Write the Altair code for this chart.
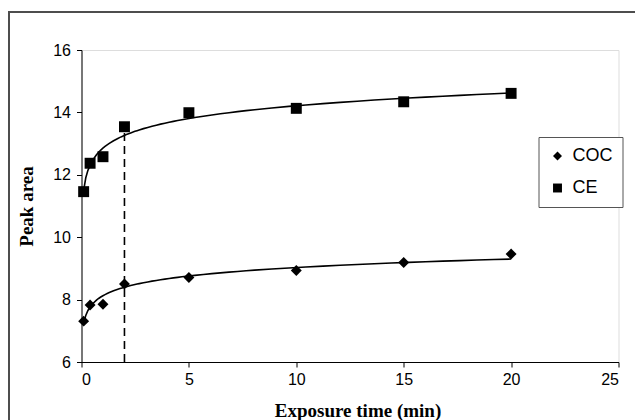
import altair as alt
import pandas as pd

# ---- data ----
time_min = [0.1, 0.4, 1, 2, 5, 10, 15, 20]
coc_area = [7.31, 7.83, 7.85, 8.50, 8.71, 8.93, 9.19, 9.46]
ce_area = [11.46, 12.37, 12.58, 13.54, 13.99, 14.13, 14.34, 14.61]
series = ["COC", "CE"]
x_ticks = [0, 5, 10, 15, 20, 25]
y_ticks = [6, 8, 10, 12, 14, 16]
marker_time = [2]
marker_top = [13.45]

rows = []
for t, v in zip(time_min, coc_area):
    rows.append({"time": t, "area": v, "series": "COC"})
for t, v in zip(time_min, ce_area):
    rows.append({"time": t, "area": v, "series": "CE"})
df = pd.DataFrame(rows)

mark_df = pd.DataFrame({"time": marker_time, "bottom": [6], "top": marker_top})
one = pd.DataFrame({"k": [0]})

W, H = 537, 312

xscale = alt.Scale(domain=[0, 25], nice=False, zero=False)
yscale = alt.Scale(domain=[6, 16], nice=False, zero=False)

x_axis = alt.Axis(
    values=x_ticks, title="Exposure time (min)", grid=False,
    tickSize=5, labelPadding=4, labelFontSize=16, labelFont="Liberation Sans",
    labelColor="black", domainColor="black", tickColor="black",
    titleFont="Liberation Serif", titleFontWeight="bold", titleFontSize=19,
    titleColor="black", titleX=276, titleY=54, titleAlign="center",
    titleBaseline="alphabetic",
)
y_axis = alt.Axis(
    values=y_ticks, title="Peak area", grid=False,
    tickSize=5, labelPadding=6, labelFontSize=16, labelFont="Liberation Sans",
    labelColor="black", domainColor="black", tickColor="black",
    titleFont="Liberation Serif", titleFontWeight="bold", titleFontSize=19,
    titleColor="black", titleX=-55, titleY=H / 2, titleAngle=270,
    titleAlign="center", titleBaseline="middle",
)

# outer frame: only its left and top edges fall inside the picture
frame = alt.Chart(one).mark_rect(
    fillOpacity=0, stroke="#4d4d4d", strokeWidth=2
).encode(
    x=alt.value(-72.5), x2=alt.value(700), y=alt.value(-38), y2=alt.value(500)
)

dash = alt.Chart(mark_df).mark_rule(
    color="black", strokeWidth=1.6, strokeDash=[8, 5]
).encode(
    x=alt.X("time:Q", scale=xscale, axis=x_axis),
    y=alt.Y("bottom:Q", scale=yscale, axis=y_axis),
    y2="top:Q",
)

trend = alt.Chart(df).transform_regression(
    "time", "area", method="log", groupby=["series"], extent=[0.1, 20]
).mark_line(color="black", strokeWidth=1.6).encode(
    x=alt.X("time:Q", scale=xscale, axis=x_axis),
    y=alt.Y("area:Q", scale=yscale, axis=y_axis),
    detail="series:N",
)

points = alt.Chart(df).mark_point(
    filled=True, opacity=1, color="black", size=120
).encode(
    x=alt.X("time:Q", scale=xscale, axis=x_axis),
    y=alt.Y("area:Q", scale=yscale, axis=y_axis),
    shape=alt.Shape(
        "series:N",
        scale=alt.Scale(domain=series, range=["diamond", "square"]),
        legend=alt.Legend(
            orient="none", legendX=457, legendY=87, title=None,
            strokeColor="#555555", fillColor="white",
            padding=10, rowPadding=14, labelFontSize=18,
            labelFont="Liberation Sans", labelColor="black", labelOffset=6,
            symbolFillColor="black", symbolStrokeWidth=0, symbolSize=80,
        ),
    ),
)

chart = alt.layer(frame, dash, trend, points).properties(
    width=W, height=H,
    autosize=alt.AutoSizeParams(type="none"),
    padding={"left": 73.5, "top": 42, "right": 16, "bottom": 58},
).configure_view(stroke=None).configure(background="white")

chart.save("out.html", embed_options={"renderer": "svg", "actions": False})
